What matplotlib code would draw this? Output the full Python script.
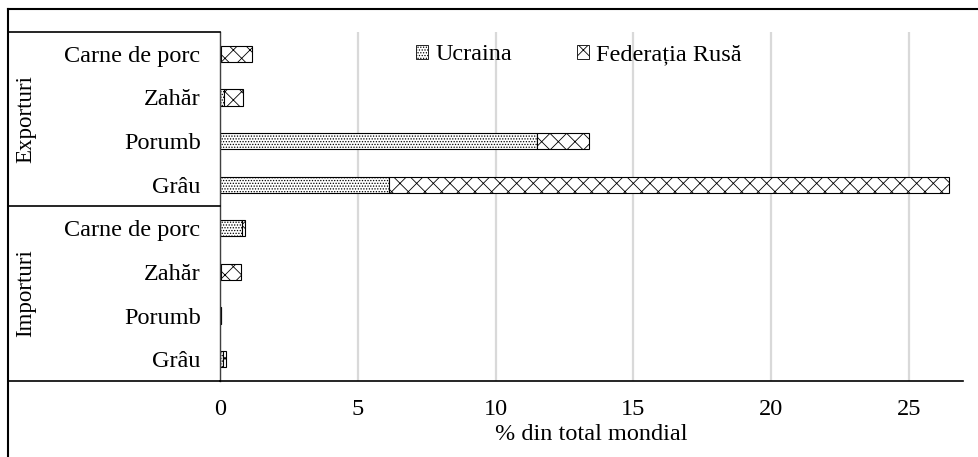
import matplotlib
matplotlib.use("Agg")
import matplotlib.pyplot as plt
from matplotlib.lines import Line2D
from matplotlib.patches import Patch
import numpy as np

plt.rcParams['font.family'] = ['Liberation Serif', 'DejaVu Serif']
plt.rcParams['hatch.linewidth'] = 0.6

products = ["Carne de porc", "Zahăr", "Porumb", "Grâu"]
groups = ["Exporturi", "Importuri"]
series = ["Ucraina", "Federația Rusă"]
export_ukraine = [0.05, 0.15, 11.5, 6.15]
export_russia = [1.1, 0.7, 1.9, 20.3]
import_ukraine = [0.8, 0.05, 0.05, 0.1]
import_russia = [0.1, 0.7, 0.0, 0.12]
xticks = [0, 5, 10, 15, 20, 25]
xlabel = "% din total mondial"

FS = 17.5
W, H = 979, 457
fig = plt.figure(figsize=(W / 100, H / 100), dpi=100)

def fx(px):
    return px / W

def fy(py):
    return 1 - py / H

ax_l, ax_r, ax_t, ax_b = 220, 963, 32, 381
ax = fig.add_axes([fx(ax_l), fy(ax_b), fx(ax_r) - fx(ax_l), fy(ax_t) - fy(ax_b)])

ukr = export_ukraine + import_ukraine
rus = export_russia + import_russia
labels = products + products
y = np.arange(len(labels))
bh = 0.37
ax.barh(y, ukr, height=bh, color="white", edgecolor="black", hatch="......", linewidth=0.8, label=series[0])
ax.barh(y, rus, left=ukr, height=bh, color="white", edgecolor="black", hatch="xx", linewidth=0.8, label=series[1])

ax.set_ylim(len(labels) - 0.5, -0.5)
ax.set_xlim(0, 26.96)
ax.set_xticks(xticks)
ax.set_xticklabels([str(t) for t in xticks], fontsize=FS)
ax.set_yticks(y)
ax.set_yticklabels(labels, fontsize=FS)
ax.tick_params(axis="both", length=0)
ax.tick_params(axis="x", pad=13)
ax.tick_params(axis="y", pad=14)
ax.xaxis.grid(True, color="#d9d9d9", linewidth=1.6)
ax.set_axisbelow(True)
for s in ["top", "right"]:
    ax.spines[s].set_visible(False)
ax.spines["left"].set_color("#404040")
ax.spines["left"].set_linewidth(1.0)
ax.spines["bottom"].set_color("black")
ax.spines["bottom"].set_linewidth(1.2)
ax.set_xlabel(xlabel, fontsize=FS, labelpad=3)

# legend
handles = [Patch(facecolor="white", edgecolor="black", hatch="......", linewidth=0.6),
           Patch(facecolor="white", edgecolor="black", hatch="xx", linewidth=0.6)]
ax.legend(handles, series, loc="center", bbox_to_anchor=(fx(579), fy(55)),
          bbox_transform=fig.transFigure, ncol=2, frameon=False, fontsize=FS,
          handlelength=0.5, handleheight=0.5, handletextpad=0.3, columnspacing=2.65)

# table lines and border
def hline(y_px, x0, x1, lw=1.2, color="black"):
    fig.add_artist(Line2D([fx(x0), fx(x1)], [fy(y_px), fy(y_px)], color=color, linewidth=lw))

def vline(x_px, y0, y1, lw=1.2, color="black"):
    fig.add_artist(Line2D([fx(x_px), fx(x_px)], [fy(y0), fy(y1)], color=color, linewidth=lw))

hline(32, 8, 220)
hline(206, 8, 220)
hline(381, 8, 220)
# outer border
hline(9, 8, 985, lw=1.5)
vline(8, 9, 460, lw=1.5)

# group labels
fig.text(fx(26), fy((32 + 206) / 2), groups[0], rotation=90, ha="center", va="center", fontsize=16.5)
fig.text(fx(26), fy((206 + 381) / 2), groups[1], rotation=90, ha="center", va="center", fontsize=16.5)

fig.savefig("out.png", dpi=100)
